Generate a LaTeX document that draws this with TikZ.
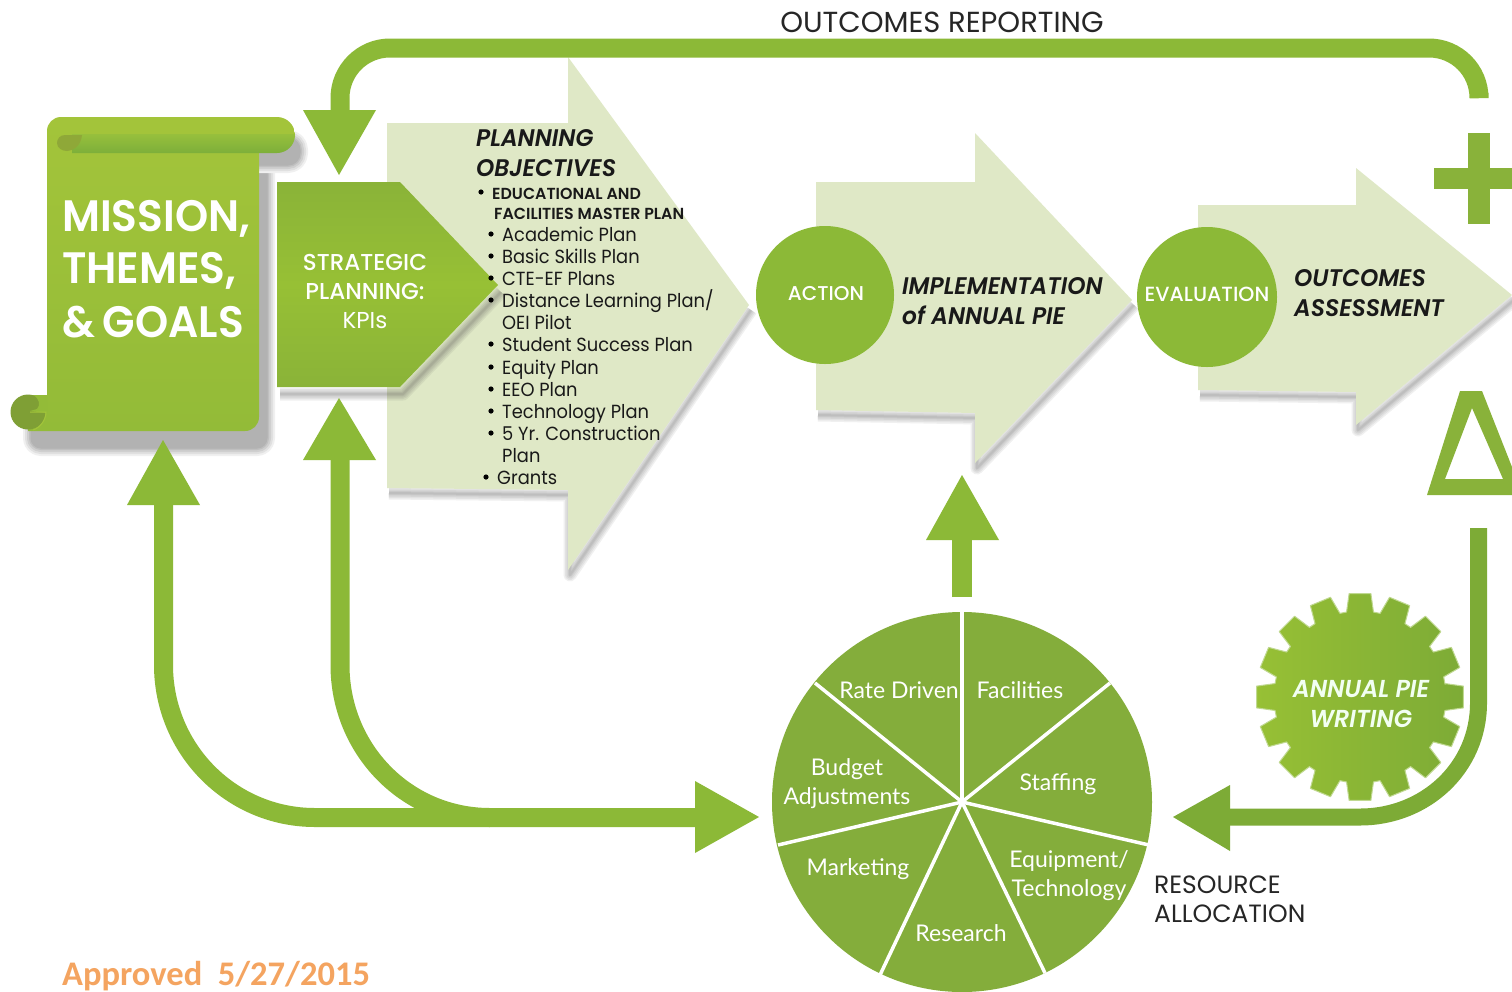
\documentclass[tikz,border=0pt]{standalone}
\usepackage{fontspec}
\setmainfont{Poppins}
\newfontfamily\carl{Carlito}
\newfontfamily\lat{Lato}
\newfontfamily\gbig[FakeStretch=.96]{Poppins SemiBold}
\newfontfamily\gtitle[FakeStretch=.97,ItalicFont={Poppins SemiBold Italic},ItalicFeatures={FakeStretch=.97}]{Poppins SemiBold}
\newfontfamily\gmed{Poppins Medium}
\newfontfamily\glist[FakeStretch=.94]{Poppins}
\newfontfamily\gbar[FakeStretch=.99]{Poppins SemiBold}
\definecolor{gA}{HTML}{8CB937}
\definecolor{gPie}{HTML}{84AD3B}
\definecolor{gLight}{HTML}{DFE8C6}
\definecolor{gDark}{HTML}{7DAB36}
\definecolor{gOr}{HTML}{F4A460}
\definecolor{bodyT}{HTML}{A3C43A}
\definecolor{bodyB}{HTML}{93BB38}
\definecolor{barM}{HTML}{96BF3C}
\definecolor{barB}{HTML}{7DAF3A}
\definecolor{curl}{HTML}{7F9F35}
\definecolor{leaf}{HTML}{8FA838}
\definecolor{stE}{HTML}{8AB338}
\definecolor{stM}{HTML}{97C035}
\definecolor{plusC}{HTML}{89B23A}
\newcommand\softshadow[3]{%
  \foreach \w in {13,10,7,4,2}{\draw[black!75,opacity=.08,line width=\w pt,line join=round,shift={(#1,#2)}] #3;}}
\newcommand\opaqueshadow[3]{%
  \foreach \w/\g in {16/94,12/88,8/81,4/75,1/70}{\filldraw[draw=black!\the\numexpr100-\g\relax,fill=black!\the\numexpr100-\g\relax,line width=\w pt,line join=round,shift={(#1,#2)}] #3;}}
\tikzset{
 x=1pt,y=-1pt,
 shaft/.style={draw=#1,line width=19pt,line cap=butt},
 shaft/.default=gA,
 pale/.style={fill=gLight},
 wt/.style={text=white,inner sep=0,align=center},
 big/.style={wt,anchor=west,font=\gbig\fontsize{44}{52}\selectfont},
 title/.style={anchor=west,inner sep=0,align=left,font=\gtitle\itshape\fontsize{24}{30}\selectfont,text=black!90},
 lst/.style={anchor=west,inner sep=0,text height=14pt,text depth=0pt,font=\glist\fontsize{19}{22}\selectfont,text=black!90},
 lsb/.style={anchor=west,inner sep=0,text height=12pt,text depth=0pt,font=\gbar\fontsize{16}{20}\selectfont,text=black!90},
 pie/.style={text=white,inner sep=0,align=center,font=\lat\fontsize{23}{29}\selectfont},
}
\begin{document}
\begin{tikzpicture}
\useasboundingbox (0,0) rectangle (1512,991);
\fill[white] (0,0) rectangle (1512,991);
% scroll shadow
\opaqueshadow{11}{20}{[rounded corners=10pt] (47,140) -- (256,140) -- (256,428) -- (20,428) -- (20,395) -- (47,395) -- cycle}
\opaqueshadow{6}{13}{[rounded corners=12pt] (100,125) rectangle (294,152)}
% pale arrows
\softshadow{2}{5}{(568,490)--(387,488) (749,305)--(568,570)--(568,490)}
\fill[pale] (387,123)--(568,123)--(568,57)--(749,305)--(568,570)--(568,490)--(387,488)--cycle;
\softshadow{2}{5}{(975,413)--(816,410) (1132,300)--(975,463)--(975,413)}
\fill[pale] (816,182)--(975,182)--(975,133)--(1132,300)--(975,463)--(975,413)--(816,410)--cycle;
\softshadow{2}{5}{(1356,392)--(1198,390) (1512,295)--(1356,425)--(1356,392)}
\fill[pale] (1198,205)--(1356,205)--(1356,168)--(1512,295)--(1356,425)--(1356,392)--(1198,390)--cycle;
% scroll
\shade[top color=bodyT,bottom color=bodyB] (47,135) [rounded corners=14pt]-- (47,117) -- (259,117) -- (259,431) [sharp corners]-- (28,431) -- (28,395) -- (47,395) -- cycle;
\begin{scope}
\clip (60,117) [rounded corners=18pt] -- (295,117) -- (295,153) [sharp corners] -- (60,153) -- cycle;
\fill[bodyT] (60,117) rectangle (295,135);
\shade[top color=barM,bottom color=barB] (72,134.5) rectangle (295,153);
\end{scope}
\fill[leaf] (82,135) -- (65,135) .. controls (60,135) and (57,139) .. (57,143) .. controls (57,148) and (62,151) .. (67,151) .. controls (76,150) and (81,144) .. (82,135) -- cycle;
% curl
\fill[curl] (28,412) circle[radius=17.5pt];
\fill[bodyB] (47,395) -- (34,395) .. controls (39,399) and (41,405) .. (37,409) -- (30,411) -- (47,413) -- cycle;
\draw[bodyT,line width=1pt] (30,412) -- (46,412) .. controls (46,420) and (40,428) .. (33,430);
\node[big] (mission) at (62,219) {MISSION,};
\node[big] (themes) at (62,271) {THEMES,};
\node[big] (goals) at (62,322) {\&\hspace{.18em}GOALS};
% strategic
\softshadow{3}{7}{(498,285)--(400,387)--(277,387)}
\shade[top color=stE,bottom color=stE,middle color=stM] (277,182)--(400,182)--(498,285)--(400,387)--(277,387)--cycle;
\node[wt,font=\gmed\fontsize{23}{29}\selectfont] (strat) at (365,292) {STRATEGIC\\PLANNING:\\{\rmfamily KPIs}};
% circles
\fill[gA] (825,295) circle[radius=69pt];
\node[wt,font=\gmed\fontsize{20}{24}\selectfont] (action) at (826,294) {ACTION};
\fill[gA] (1207,297) circle[radius=70pt];
\node[wt,font=\gmed\fontsize{20.5}{24}\selectfont] (eval) at (1207,294) {EVALUATION};
% arrow labels
\node[title] (impl) at (902,301) {IMPLEMENTATION\\of ANNUAL PIE};
\node[title] (outc) at (1294,293) {OUTCOMES\\ASSESSMENT};
\node[title] (plan) at (476,153) {PLANNING\\OBJECTIVES};
\node[lsb] (e1) at (492,193) {EDUCATIONAL AND};
\node[lsb] (e2) at (494,213) {FACILITIES MASTER PLAN};
\foreach \bx/\by in {481/192,491/234,491/256,491/278,491/300,491/344,491/367,491/389,491/411,491/433,486/477}{\fill[black] (\bx,\by) circle[radius=2.6pt];}
\node[lst] (l1) at (502,234) {Academic Plan};
\node[lst] (l2) at (502,256) {Basic Skills Plan};
\node[lst] (l3) at (502,278) {CTE-EF Plans};
\node[lst] (l4) at (502,300) {Distance Learning Plan/};
\node[lst] (l5) at (502,322) {OEI Pilot};
\node[lst] (l6) at (502,344) {Student Success Plan};
\node[lst] (l7) at (502,367) {Equity Plan};
\node[lst] (l8) at (502,389) {EEO Plan};
\node[lst] (l9) at (502,411) {Technology Plan};
\node[lst] (l10) at (502,433) {5 Yr. Construction};
\node[lst] (l11) at (502,455) {Plan};
\node[lst] (l12) at (497,477) {Grants};
% plus and delta
\fill[plusC] (1434,168) rectangle (1512,189);
\fill[plusC] (1468,133) rectangle (1490,224);
\fill[plusC,even odd rule] (1460,391) -- (1482,391) -- (1512,467) -- (1512,495) -- (1427,495) -- cycle (1472,408) -- (1445,479) -- (1503,479) -- cycle;
% gear
\begin{scope}[shift={(1360,697)}]
\shadedraw[left color=stM,right color=gDark,draw=gA!55!white,line width=1pt,line join=round]
  (-8.5:86) \foreach \a in {0,22.5,...,337.5}{ -- (\a-9:86) -- (\a-6:104) -- (\a+6:104) -- (\a+9:86)} -- cycle;
\end{scope}
\node[wt,font=\gtitle\itshape\fontsize{24.5}{30}\selectfont,text=white!95!green] (pie) at (1361,704) {ANNUAL PIE\\WRITING};
% pie chart
\coordinate (pc) at (962,802);
\fill[gPie] (pc) circle[radius=190pt];
\foreach \p in {(962,612),(1110,683),(1149,845),(1045,973),(880,975),(778,845),(815,683)}{\draw[white,line width=3.5pt] (pc) -- \p;}
\node[pie] (s1) at (899,690) {Rate Driven};
\node[pie] (s2) at (1020,690) {Facilities};
\node[pie] (s3) at (1058,784) {Staffing};
\node[pie] (s4) at (847,784) {Budget\\Adjustments};
\node[pie] (s5) at (1069,876) {Equipment/\\Technology};
\node[pie] (s6) at (858,869) {Marketing};
\node[pie] (s7) at (961,933) {Research};
% connectors
\coordinate (t0) at (1479,93);
\coordinate (t1) at (340,115);
\draw[shaft] (t0) [rounded corners=50pt] -- (1479,48) -- (340,48) [sharp corners] -- (t1);
\fill[gA] (303,110) -- (376,110) -- (339,175) -- cycle;
\coordinate (a1) at (163.5,500);
\coordinate (a2) at (700,817.5);
\draw[shaft] (a1) -- (163.5,665) .. controls (163.5,749) and (231,817.5) .. (315,817.5) -- (a2);
\fill[gA] (127,505) -- (200,505) -- (163,440) -- cycle;
\coordinate (b1) at (340,455);
\coordinate (b2) at (490,817.5);
\draw[shaft] (b1) -- (340,665) .. controls (340,749) and (406,817.5) .. (b2);
\fill[gA] (303,460) -- (376,460) -- (339,398) -- cycle;
\fill[gA] (695,781) -- (695,853) -- (759,817) -- cycle;
\coordinate (r1) at (1478.5,528);
\coordinate (r2) at (1225,817);
\draw[line width=17pt,draw=gDark] (r1) -- (1478.5,703) .. controls (1478.5,768) and (1425,817) .. (1360,817) -- (r2);
\fill[gDark] (1230,785) -- (1230,851) -- (1173,817) -- cycle;
\coordinate (u1) at (962,597);
\coordinate (u2) at (962,535);
\draw[line width=20pt,draw=gA] (u1) -- (u2);
\fill[gA] (926,540) -- (999,540) -- (962,475) -- cycle;
% plain labels
\node[inner sep=0,font=\fontsize{29}{30}\selectfont,text=black!85] (rep) at (942,22) {OUTCOMES REPORTING};
\node[inner sep=0,anchor=west,align=left,font=\fontsize{25}{29}\selectfont,text=black!85] (res) at (1154,899) {RESOURCE\\ALLOCATION};
\node[inner sep=0,anchor=west,font=\carl\bfseries\fontsize{34.5}{36}\selectfont,text=gOr] (appr) at (62,976) {Approved\ \ 5/27/2015};
\end{tikzpicture}
\end{document}
